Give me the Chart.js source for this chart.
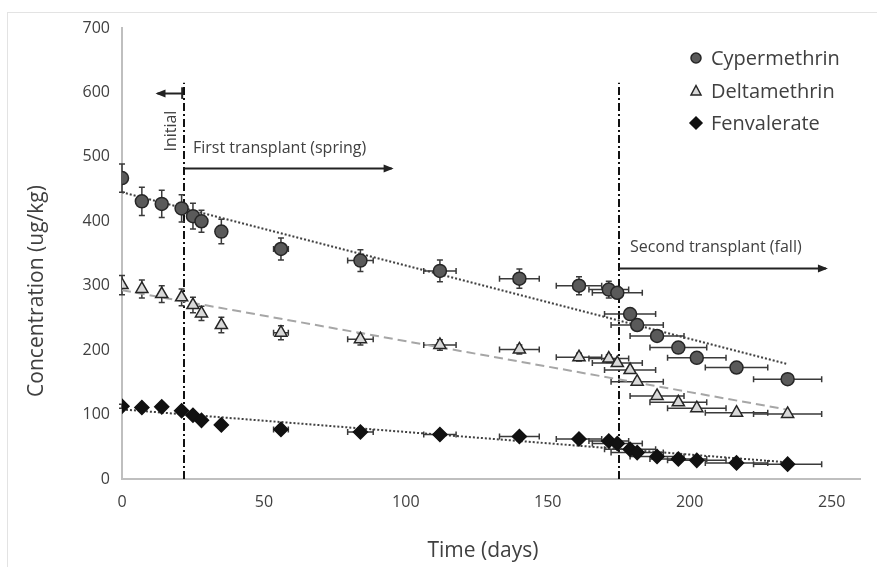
<!DOCTYPE html>
<html><head><meta charset="utf-8">
<script src="https://cdn.jsdelivr.net/npm/chart.js@4/dist/chart.umd.min.js"></script>
<style>html,body{margin:0;padding:0;background:#fff;}#wrap{width:877px;height:567px;}</style>
</head><body><div id="wrap"><canvas id="c" width="877" height="567"></canvas></div>
<script>
// ---- data ----
const days = [0, 7, 14, 21, 25, 28, 35, 56, 84, 112, 140, 161, 171.5, 174.5, 179, 181.5, 188.5, 196, 202.5, 216.5, 234.5];
const dayErr = [0, 0, 0, 0, 0, 0, 0, 2.6, 4.5, 5.7, 7, 8, 7, 8.8, 9, 9.2, 9.5, 10, 10.3, 11, 12];
const cypermethrin = [467, 431, 427, 420, 408, 400, 384, 357, 339, 323, 311, 300, 294, 289, 256, 239, 222, 204, 188, 173, 155];
const cypermethrinErr = [22, 22, 21, 21, 20, 17, 19, 17, 17, 17, 15, 14, 13, 9, 6, 5, 4, 4, 5, 4, 4];
const deltamethrin = [301, 295, 287, 282, 270, 257, 239, 227, 217, 208, 201, 189, 187, 180, 169, 151, 129, 119, 110, 103, 101];
const deltamethrinErr = [15, 14, 13, 13, 12, 11, 12, 11, 9, 8, 7, 6, 6, 5, 4, 4, 3, 3, 3, 3, 3];
const fenvalerate = [113, 111, 112, 106, 99, 91, 84, 77, 73, 69, 66, 62, 59, 55, 46, 41, 35, 31, 29, 25, 23];
const fenvalerateErr = [3, 3, 3, 3, 3, 3, 3, 3, 3, 3, 3, 3, 3, 3, 2, 2, 2, 2, 2, 2, 2];
const trendX = [0, 234];
const cypermethrinTrend = [445, 179];
const deltamethrinTrend = [293, 108];
const fenvalerateTrend = [108, 26];
const phaseDays = [22, 175];
const seriesNames = ['Cypermethrin', 'Deltamethrin', 'Fenvalerate'];
const xTicks = [0, 50, 100, 150, 200, 250];
const yTicks = [0, 100, 200, 300, 400, 500, 600, 700];

const FONT = '"Open Sans", sans-serif';
const TXT = '#404040';
const pts = (xs, ys) => xs.map((x, i) => ({x: x, y: ys[i]}));

const styles = [
  {pointStyle: 'circle', radius: 6.5, bg: '#5a5a5a', border: '#262626'},
  {pointStyle: 'triangle', radius: 7, bg: '#d9d9d9', border: '#262626'},
  {pointStyle: 'rectRot', radius: 7, bg: '#111111', border: '#111111'}
];
const values = [cypermethrin, deltamethrin, fenvalerate];
const errs = [cypermethrinErr, deltamethrinErr, fenvalerateErr];
const trends = [cypermethrinTrend, deltamethrinTrend, fenvalerateTrend];
const trendStyles = [
  {color: '#404040', dash: [2, 2], width: 2},
  {color: '#a6a6a6', dash: [9, 5], width: 2},
  {color: '#404040', dash: [2, 2], width: 2}
];

const datasets = [];
values.forEach((v, k) => {
  datasets.push({
    label: seriesNames[k], data: pts(days, v), showLine: false,
    pointStyle: styles[k].pointStyle, pointRadius: styles[k].radius,
    pointBackgroundColor: styles[k].bg, pointBorderColor: styles[k].border,
    pointBorderWidth: 1.5, order: 1
  });
});
trends.forEach((t, k) => {
  datasets.push({
    label: seriesNames[k] + ' trend', data: pts(trendX, t), showLine: true,
    pointRadius: 0, borderColor: trendStyles[k].color, borderDash: trendStyles[k].dash,
    borderWidth: trendStyles[k].width, fill: false, order: 5
  });
});

const extras = {
  id: 'extras',
  beforeDraw(chart) {
    const ctx = chart.ctx;
    ctx.save();
    ctx.strokeStyle = '#e3e3e3'; ctx.lineWidth = 1;
    ctx.strokeRect(7.5, 12.5, 900, 600);
    ctx.restore();
  },
  beforeDatasetsDraw(chart) {
    const ctx = chart.ctx, sx = chart.scales.x, sy = chart.scales.y;
    ctx.save();
    // phase lines
    ctx.strokeStyle = '#111'; ctx.lineWidth = 2; ctx.setLineDash([8, 3, 2, 3]);
    phaseDays.forEach(d => {
      const px = Math.round(sx.getPixelForValue(d));
      ctx.beginPath(); ctx.moveTo(px, sy.getPixelForValue(0)); ctx.lineTo(px, sy.getPixelForValue(615)); ctx.stroke();
    });
    ctx.setLineDash([]);
    // error bars
    ctx.strokeStyle = '#3a3a3a'; ctx.lineWidth = 1.5;
    values.forEach((v, k) => {
      const e = errs[k];
      days.forEach((d, i) => {
        const px = sx.getPixelForValue(d), py = sy.getPixelForValue(v[i]);
        if (e[i] > 0) {
          const y1 = sy.getPixelForValue(v[i] + e[i]), y2 = sy.getPixelForValue(v[i] - e[i]);
          ctx.beginPath();
          ctx.moveTo(px, y1); ctx.lineTo(px, y2);
          ctx.moveTo(px - 3, y1); ctx.lineTo(px + 3, y1);
          ctx.moveTo(px - 3, y2); ctx.lineTo(px + 3, y2);
          ctx.stroke();
        }
        if (dayErr[i] > 0) {
          const x1 = sx.getPixelForValue(d - dayErr[i]), x2 = sx.getPixelForValue(d + dayErr[i]);
          ctx.beginPath();
          ctx.moveTo(x1, py); ctx.lineTo(x2, py);
          ctx.moveTo(x1, py - 3); ctx.lineTo(x1, py + 3);
          ctx.moveTo(x2, py - 3); ctx.lineTo(x2, py + 3);
          ctx.stroke();
        }
      });
    });
    ctx.restore();
  },
  afterDraw(chart) {
    const ctx = chart.ctx, sx = chart.scales.x, sy = chart.scales.y;
    ctx.save();
    // arrows
    const arrow = (x1, x2, yv) => {
      const a = sx.getPixelForValue(x1), b = sx.getPixelForValue(x2), y = Math.round(sy.getPixelForValue(yv)) + 0.5;
      ctx.strokeStyle = '#222'; ctx.fillStyle = '#222'; ctx.lineWidth = 2;
      ctx.beginPath(); ctx.moveTo(a, y); ctx.lineTo(b, y); ctx.stroke();
      const dir = b > a ? 1 : -1;
      ctx.beginPath(); ctx.moveTo(b + dir * 2, y); ctx.lineTo(b - dir * 8, y - 4); ctx.lineTo(b - dir * 8, y + 4); ctx.closePath(); ctx.fill();
    };
    arrow(phaseDays[0], 95, 482);
    arrow(phaseDays[1], 248, 327);
    arrow(21.2, 12.5, 599);
    const bx = sx.getPixelForValue(21.2);
    ctx.beginPath(); ctx.moveTo(bx, sy.getPixelForValue(608)); ctx.lineTo(bx, sy.getPixelForValue(590)); ctx.stroke();
    // annotation text
    ctx.fillStyle = TXT; ctx.font = '16px ' + FONT; ctx.textBaseline = 'middle'; ctx.textAlign = 'left';
    ctx.fillText('First transplant (spring)', sx.getPixelForValue(25), sy.getPixelForValue(513));
    ctx.fillText('Second transplant (fall)', sx.getPixelForValue(179), sy.getPixelForValue(359));
    ctx.save();
    ctx.translate(sx.getPixelForValue(17.5), sy.getPixelForValue(540));
    ctx.rotate(-Math.PI / 2); ctx.textAlign = 'center';
    ctx.fillText('Initial', 0, 0);
    ctx.restore();
    // axis titles
    ctx.font = '21px ' + FONT; ctx.textAlign = 'center';
    ctx.fillText('Time (days)', 483, 551);
    ctx.save(); ctx.translate(37, 291); ctx.rotate(-Math.PI / 2);
    ctx.fillText('Concentration (ug/kg)', 0, 0); ctx.restore();
    // legend
    const ly = [58, 91, 123];
    seriesNames.forEach((n, k) => {
      const cx = 696, cy = ly[k];
      ctx.fillStyle = styles[k].bg; ctx.strokeStyle = styles[k].border; ctx.lineWidth = 1.5;
      ctx.beginPath();
      if (k === 0) { ctx.arc(cx, cy, 5, 0, Math.PI * 2); }
      else if (k === 1) { ctx.moveTo(cx, cy - 5.5); ctx.lineTo(cx + 5, cy + 4); ctx.lineTo(cx - 5, cy + 4); ctx.closePath(); }
      else { ctx.moveTo(cx, cy - 6); ctx.lineTo(cx + 6, cy); ctx.lineTo(cx, cy + 6); ctx.lineTo(cx - 6, cy); ctx.closePath(); }
      ctx.fill(); ctx.stroke();
      ctx.fillStyle = TXT; ctx.font = '20px ' + FONT; ctx.textAlign = 'left'; ctx.textBaseline = 'middle';
      ctx.fillText(n, 711, cy + 1);
    });
    ctx.restore();
  }
};

new Chart(document.getElementById('c'), {
  type: 'scatter',
  data: {datasets: datasets},
  options: {
    responsive: false, animation: false, devicePixelRatio: 1,
    layout: {padding: {top: 28, right: 17, left: 0, bottom: 0}},
    plugins: {legend: {display: false}, tooltip: {enabled: false}},
    scales: {
      x: {
        type: 'linear', min: 0, max: 260,
        afterBuildTicks: s => { s.ticks = xTicks.map(v => ({value: v})); },
        afterFit: s => { s.height = 88; },
        grid: {display: false, drawTicks: false},
        border: {display: true, color: '#bfbfbf', width: 2},
        ticks: {padding: 14, color: TXT, font: {family: FONT, size: 16}}
      },
      y: {
        type: 'linear', min: 0, max: 700,
        afterBuildTicks: s => { s.ticks = yTicks.map(v => ({value: v})); },
        afterFit: s => { s.width = 122; },
        grid: {display: false, drawTicks: false},
        border: {display: true, color: '#bfbfbf', width: 2},
        ticks: {padding: 12, color: TXT, font: {family: FONT, size: 16}}
      }
    }
  },
  plugins: [extras]
});
</script></body></html>
